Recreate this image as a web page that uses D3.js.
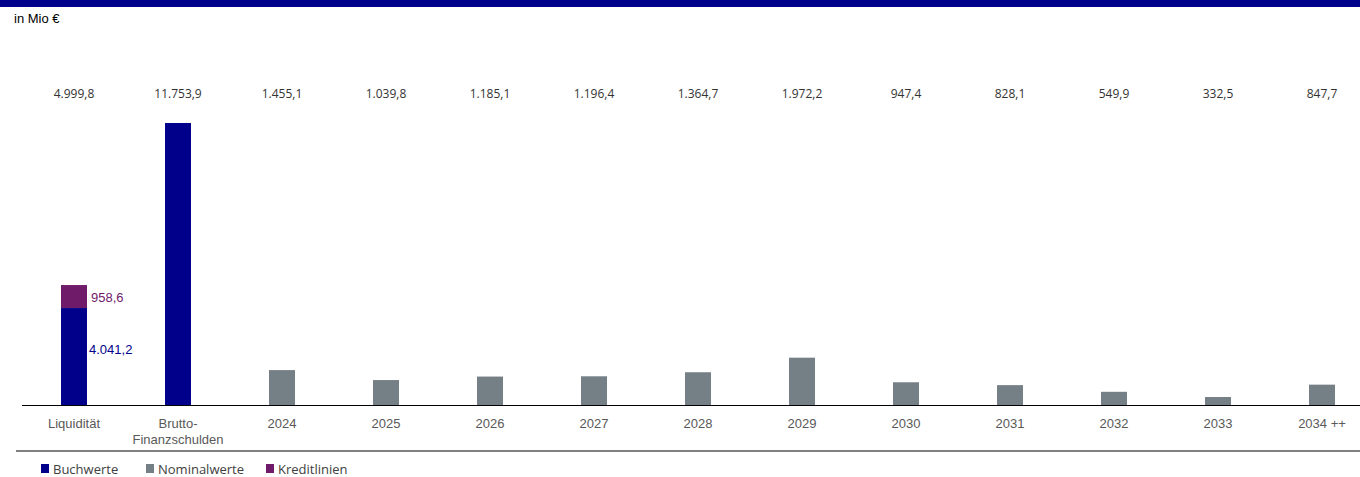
<!DOCTYPE html>
<html>
<head>
<meta charset="utf-8">
<script src="https://cdn.jsdelivr.net/npm/d3@7"></script>
<style>
  body { margin: 0; background: #fff; }
  svg { display: block; }
</style>
</head>
<body>
<svg id="chart" width="1360" height="477"></svg>
<script>
  var width = 1360, height = 477

  // data
  var categories = ["Liquidität", "Brutto-\nFinanzschulden", "2024", "2025", "2026", "2027",
                    "2028", "2029", "2030", "2031", "2032", "2033", "2034 ++"]
  var totals = [4999.8, 11753.9, 1455.1, 1039.8, 1185.1, 1196.4, 1364.7, 1972.2, 947.4, 828.1, 549.9, 332.5, 847.7]
  var buchwerte = [4041.2, 11753.9, 0, 0, 0, 0, 0, 0, 0, 0, 0, 0, 0]
  var nominalwerte = [0, 0, 1455.1, 1039.8, 1185.1, 1196.4, 1364.7, 1972.2, 947.4, 828.1, 549.9, 332.5, 847.7]
  var kreditlinien = [958.6, 0, 0, 0, 0, 0, 0, 0, 0, 0, 0, 0, 0]
  var legendNames = ["Buchwerte", "Nominalwerte", "Kreditlinien"]
  var colors = ["#00008b", "#757f86", "#701a6a"]

  var fmt = d3.formatLocale({decimal: ",", thousands: ".", grouping: [3], currency: ["", " €"]}).format(",.1f")

  var svg = d3.select("#chart")

  // top band
  svg.append("rect").attr("x", 0).attr("y", 0).attr("width", width).attr("height", 7).attr("fill", "#00008b")

  svg.append("text").attr("x", 14).attr("y", 23)
    .attr("font-family", "Liberation Sans, Arial, sans-serif").attr("font-size", 13).attr("fill", "#000")
    .text("in Mio €")

  var x = d3.scaleBand().domain(d3.range(categories.length)).range([22, 1374]).paddingInner(0.75).paddingOuter(0.375)
  var y = d3.scaleLinear().domain([0, 11753.9]).range([405, 123])

  var stacks = categories.map(function(c, i) {
    return [
      {key: 0, y0: 0, y1: buchwerte[i]},
      {key: 1, y0: buchwerte[i], y1: buchwerte[i] + nominalwerte[i]},
      {key: 2, y0: buchwerte[i] + nominalwerte[i], y1: buchwerte[i] + nominalwerte[i] + kreditlinien[i]}
    ].filter(function(s) { return s.y1 > s.y0 })
  })

  var g = svg.append("g")
  g.selectAll("g.cat").data(stacks).enter().append("g").attr("class", "cat")
    .each(function(d, i) {
      d3.select(this).selectAll("rect").data(d).enter().append("rect")
        .attr("x", x(i))
        .attr("width", x.bandwidth())
        .attr("y", function(s) { return y(s.y1) })
        .attr("height", function(s) { return y(s.y0) - y(s.y1) })
        .attr("fill", function(s) { return colors[s.key] })
    })

  // baseline
  svg.append("line").attr("x1", 22).attr("x2", width).attr("y1", y(0) + 0.5).attr("y2", y(0) + 0.5)
    .attr("stroke", "#000").attr("stroke-width", 1)

  // totals on top row
  svg.selectAll("text.total").data(totals).enter().append("text").attr("class", "total")
    .attr("x", function(d, i) { return x(i) + x.bandwidth() / 2 })
    .attr("y", 98)
    .attr("text-anchor", "middle")
    .attr("font-family", "Open Sans, sans-serif").attr("font-size", 12).attr("fill", "#333")
    .text(function(d) { return fmt(d) })

  // segment labels inside Liquidität
  svg.append("text").attr("x", x(0) + x.bandwidth() + 2).attr("y", y(buchwerte[0] / 2 + 300) + 5)
    .attr("font-family", "Liberation Sans, Arial, sans-serif").attr("font-size", 13).attr("fill", "#00008b")
    .text(fmt(buchwerte[0]))
  svg.append("text").attr("x", x(0) + x.bandwidth() + 4).attr("y", y(buchwerte[0] + kreditlinien[0] / 2) + 5)
    .attr("font-family", "Liberation Sans, Arial, sans-serif").attr("font-size", 13).attr("fill", "#701a6a")
    .text(fmt(kreditlinien[0]))

  // category labels
  svg.selectAll("text.cat").data(categories).enter().append("text").attr("class", "cat")
    .attr("x", function(d, i) { return x(i) + x.bandwidth() / 2 })
    .attr("y", 428)
    .attr("text-anchor", "middle")
    .attr("font-family", "Liberation Sans, Arial, sans-serif").attr("font-size", 13).attr("fill", "#595959")
    .each(function(d) {
      var t = d3.select(this)
      d.split("\n").forEach(function(line, k) {
        t.append("tspan").attr("x", t.attr("x")).attr("dy", k ? 16 : 0).text(line)
      })
    })

  // separator
  svg.append("line").attr("x1", 16).attr("x2", width).attr("y1", 451).attr("y2", 451)
    .attr("stroke", "#808080").attr("stroke-width", 2)

  // legend
  var lx = [41, 146, 266]
  var lg = svg.selectAll("g.leg").data(legendNames).enter().append("g").attr("class", "leg")
    .attr("transform", function(d, i) { return "translate(" + lx[i] + ",464)" })
  lg.append("rect").attr("width", 8).attr("height", 9).attr("fill", function(d, i) { return colors[i] })
  lg.append("text").attr("x", 12).attr("y", 9.5)
    .attr("font-family", "Open Sans, sans-serif").attr("font-size", 13).attr("fill", "#404040")
    .text(function(d) { return d })
</script>
</body>
</html>
